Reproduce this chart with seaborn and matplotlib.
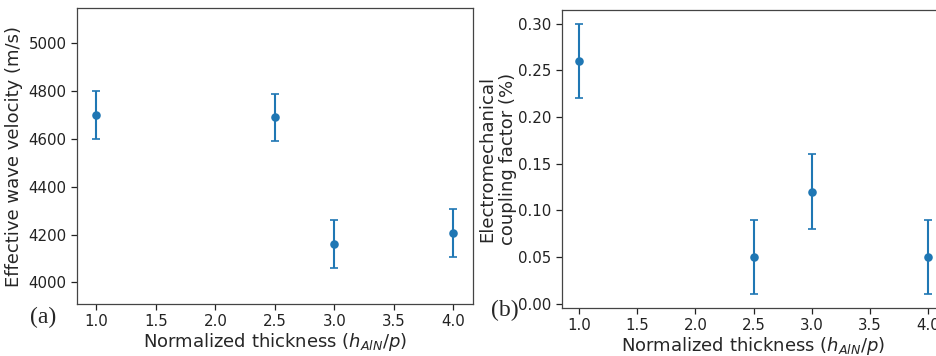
#!/usr/bin/env python3
"""
Wave velocity and coupling factor vs normalized AlN thickness
"""

import pandas as pd
import matplotlib
matplotlib.use('Agg')
import matplotlib.pyplot as plt
import seaborn as sns

# Data
thickness = [1.0, 2.5, 3.0, 4.0]
velocity = [4700, 4690, 4160, 4205]
velocity_err = [100, 100, 100, 100]
coupling = [0.26, 0.05, 0.12, 0.05]
coupling_err = [0.04, 0.04, 0.04, 0.04]

xlabel = r'Normalized thickness ($h_{AlN}/p$)'
blue = '#1f77b4'

sns.set_style('ticks')
plt.rcParams['font.family'] = ['DejaVu Sans']
plt.rcParams['mathtext.fontset'] = 'dejavusans'
plt.rcParams['axes.edgecolor'] = '#444444'


def panel(ax, y, err):
    df = pd.DataFrame({'x': thickness, 'y': y})
    ax.errorbar(df['x'], df['y'], yerr=err, fmt='none', ecolor=blue,
                elinewidth=1.5, capsize=3, capthick=1.2)
    sns.scatterplot(data=df, x='x', y='y', ax=ax, color=blue, s=38,
                    edgecolor=blue, linewidth=0, zorder=3)
    ax.set_xticks([1.0, 1.5, 2.0, 2.5, 3.0, 3.5, 4.0])
    ax.tick_params(labelsize=10.8, length=4, width=0.9, colors='#222222')
    ax.set_xlabel(xlabel, fontsize=13, labelpad=1)
    for s in ax.spines.values():
        s.set_linewidth(0.9)


fig = plt.figure(figsize=(9.37, 3.56), dpi=100)
ax1 = fig.add_axes([0.0822, 0.146, 0.4226, 0.8315])
ax2 = fig.add_axes([0.5998, 0.1348, 0.4088, 0.837])

panel(ax1, velocity, velocity_err)
ax1.set_xlim(0.838, 4.165)
ax1.set_ylim(3909, 5148)
ax1.set_yticks([4000, 4200, 4400, 4600, 4800, 5000])
ax1.set_ylabel('Effective wave velocity (m/s)', fontsize=13, labelpad=4)

panel(ax2, coupling, coupling_err)
ax2.set_xlim(0.854, 4.146)
ax2.set_ylim(-0.0045, 0.3145)
ax2.set_yticks([0.0, 0.05, 0.10, 0.15, 0.20, 0.25, 0.30])
ax2.set_yticklabels([f'{v:.2f}' for v in ax2.get_yticks()])
ax2.set_ylabel('Electromechanical\ncoupling factor (%)', fontsize=13,
               labelpad=1, linespacing=1.15)

fig.text(0.046, 0.107, '(a)', family='Liberation Serif', fontsize=17,
         ha='center', va='center')
fig.text(0.539, 0.128, '(b)', family='Liberation Serif', fontsize=17,
         ha='center', va='center')

plt.savefig('out.png', dpi=100, facecolor='white')
